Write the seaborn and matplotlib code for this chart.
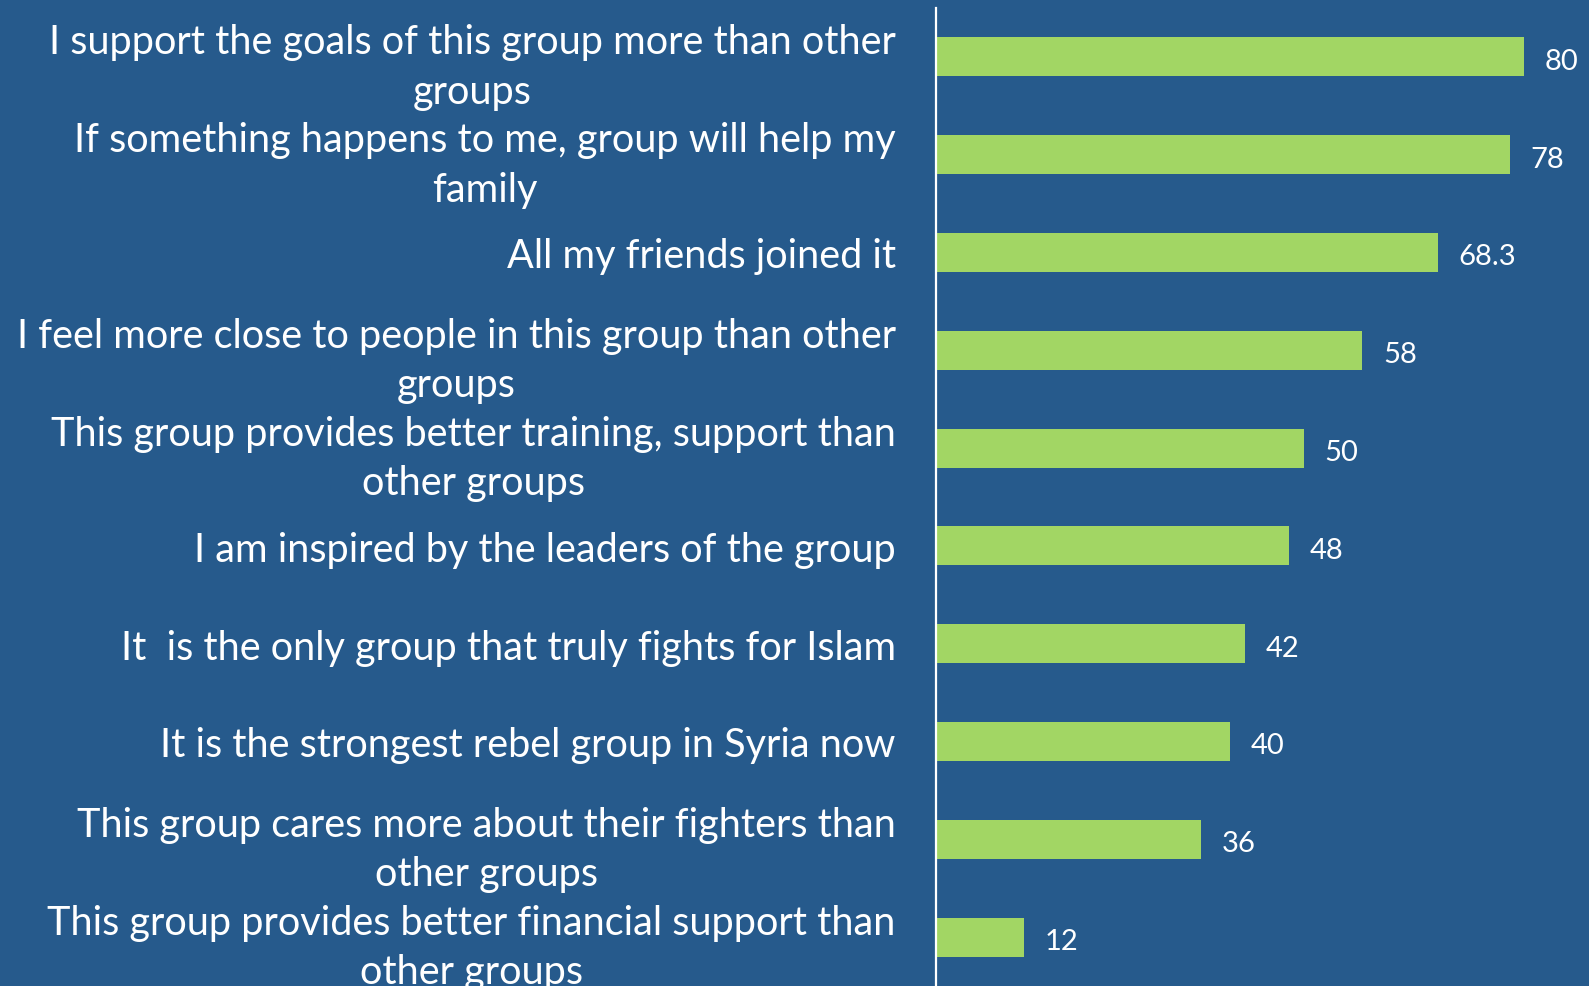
import seaborn as sns
import matplotlib.pyplot as plt
import pandas as pd

# survey answers, top to bottom as in the chart
reasons = [
    "I support the goals of this group more than other\ngroups",
    "If something happens to me, group will help my\nfamily",
    "All my friends joined it",
    "I feel more close to people in this group than other\ngroups",
    "This group provides better training, support than\nother groups",
    "I am inspired by the leaders of the group",
    "It  is the only group that truly fights for Islam",
    "It is the strongest rebel group in Syria now",
    "This group cares more about their fighters than\nother groups",
    "This group provides better financial support than\nother groups",
]
percent = [80, 78, 68.3, 58, 50, 48, 42, 40, 36, 12]

BG = "#265a8c"
BAR = "#a2d664"

df = pd.DataFrame({"reason": reasons, "percent": percent})

sns.set_theme(style="white")
plt.rcParams["font.family"] = ["Lato", "DejaVu Sans"]

fig = plt.figure(figsize=(15.89, 9.87), dpi=100, facecolor=BG)
ax = fig.add_axes([0.589, 0.0, 0.411, 0.9909])
ax.set_facecolor(BG)

sns.barplot(data=df, x="percent", y="reason", orient="h", color=BAR,
            width=0.4, saturation=1, edgecolor=BAR, linewidth=0, ax=ax)

ax.set_xlim(0, 88.8)
ax.set_ylim(9.5, -0.5)
ax.set_xlabel("")
ax.set_ylabel("")
ax.set_xticks([])

for side in ["top", "right", "bottom"]:
    ax.spines[side].set_visible(False)
ax.spines["left"].set_color("white")
ax.spines["left"].set_linewidth(1.6)

ax.tick_params(axis="y", length=0, pad=29, labelsize=28.5, labelcolor="white")
for lbl in ax.get_yticklabels():
    lbl.set_multialignment("center")
    lbl.set_linespacing(1.42)

for i, v in enumerate(percent):
    ax.text(v + 2.8, i + 0.04, f"{v:g}", color="white", fontsize=21,
            va="center", ha="left")

fig.savefig("out.png", dpi=100, facecolor=BG)
